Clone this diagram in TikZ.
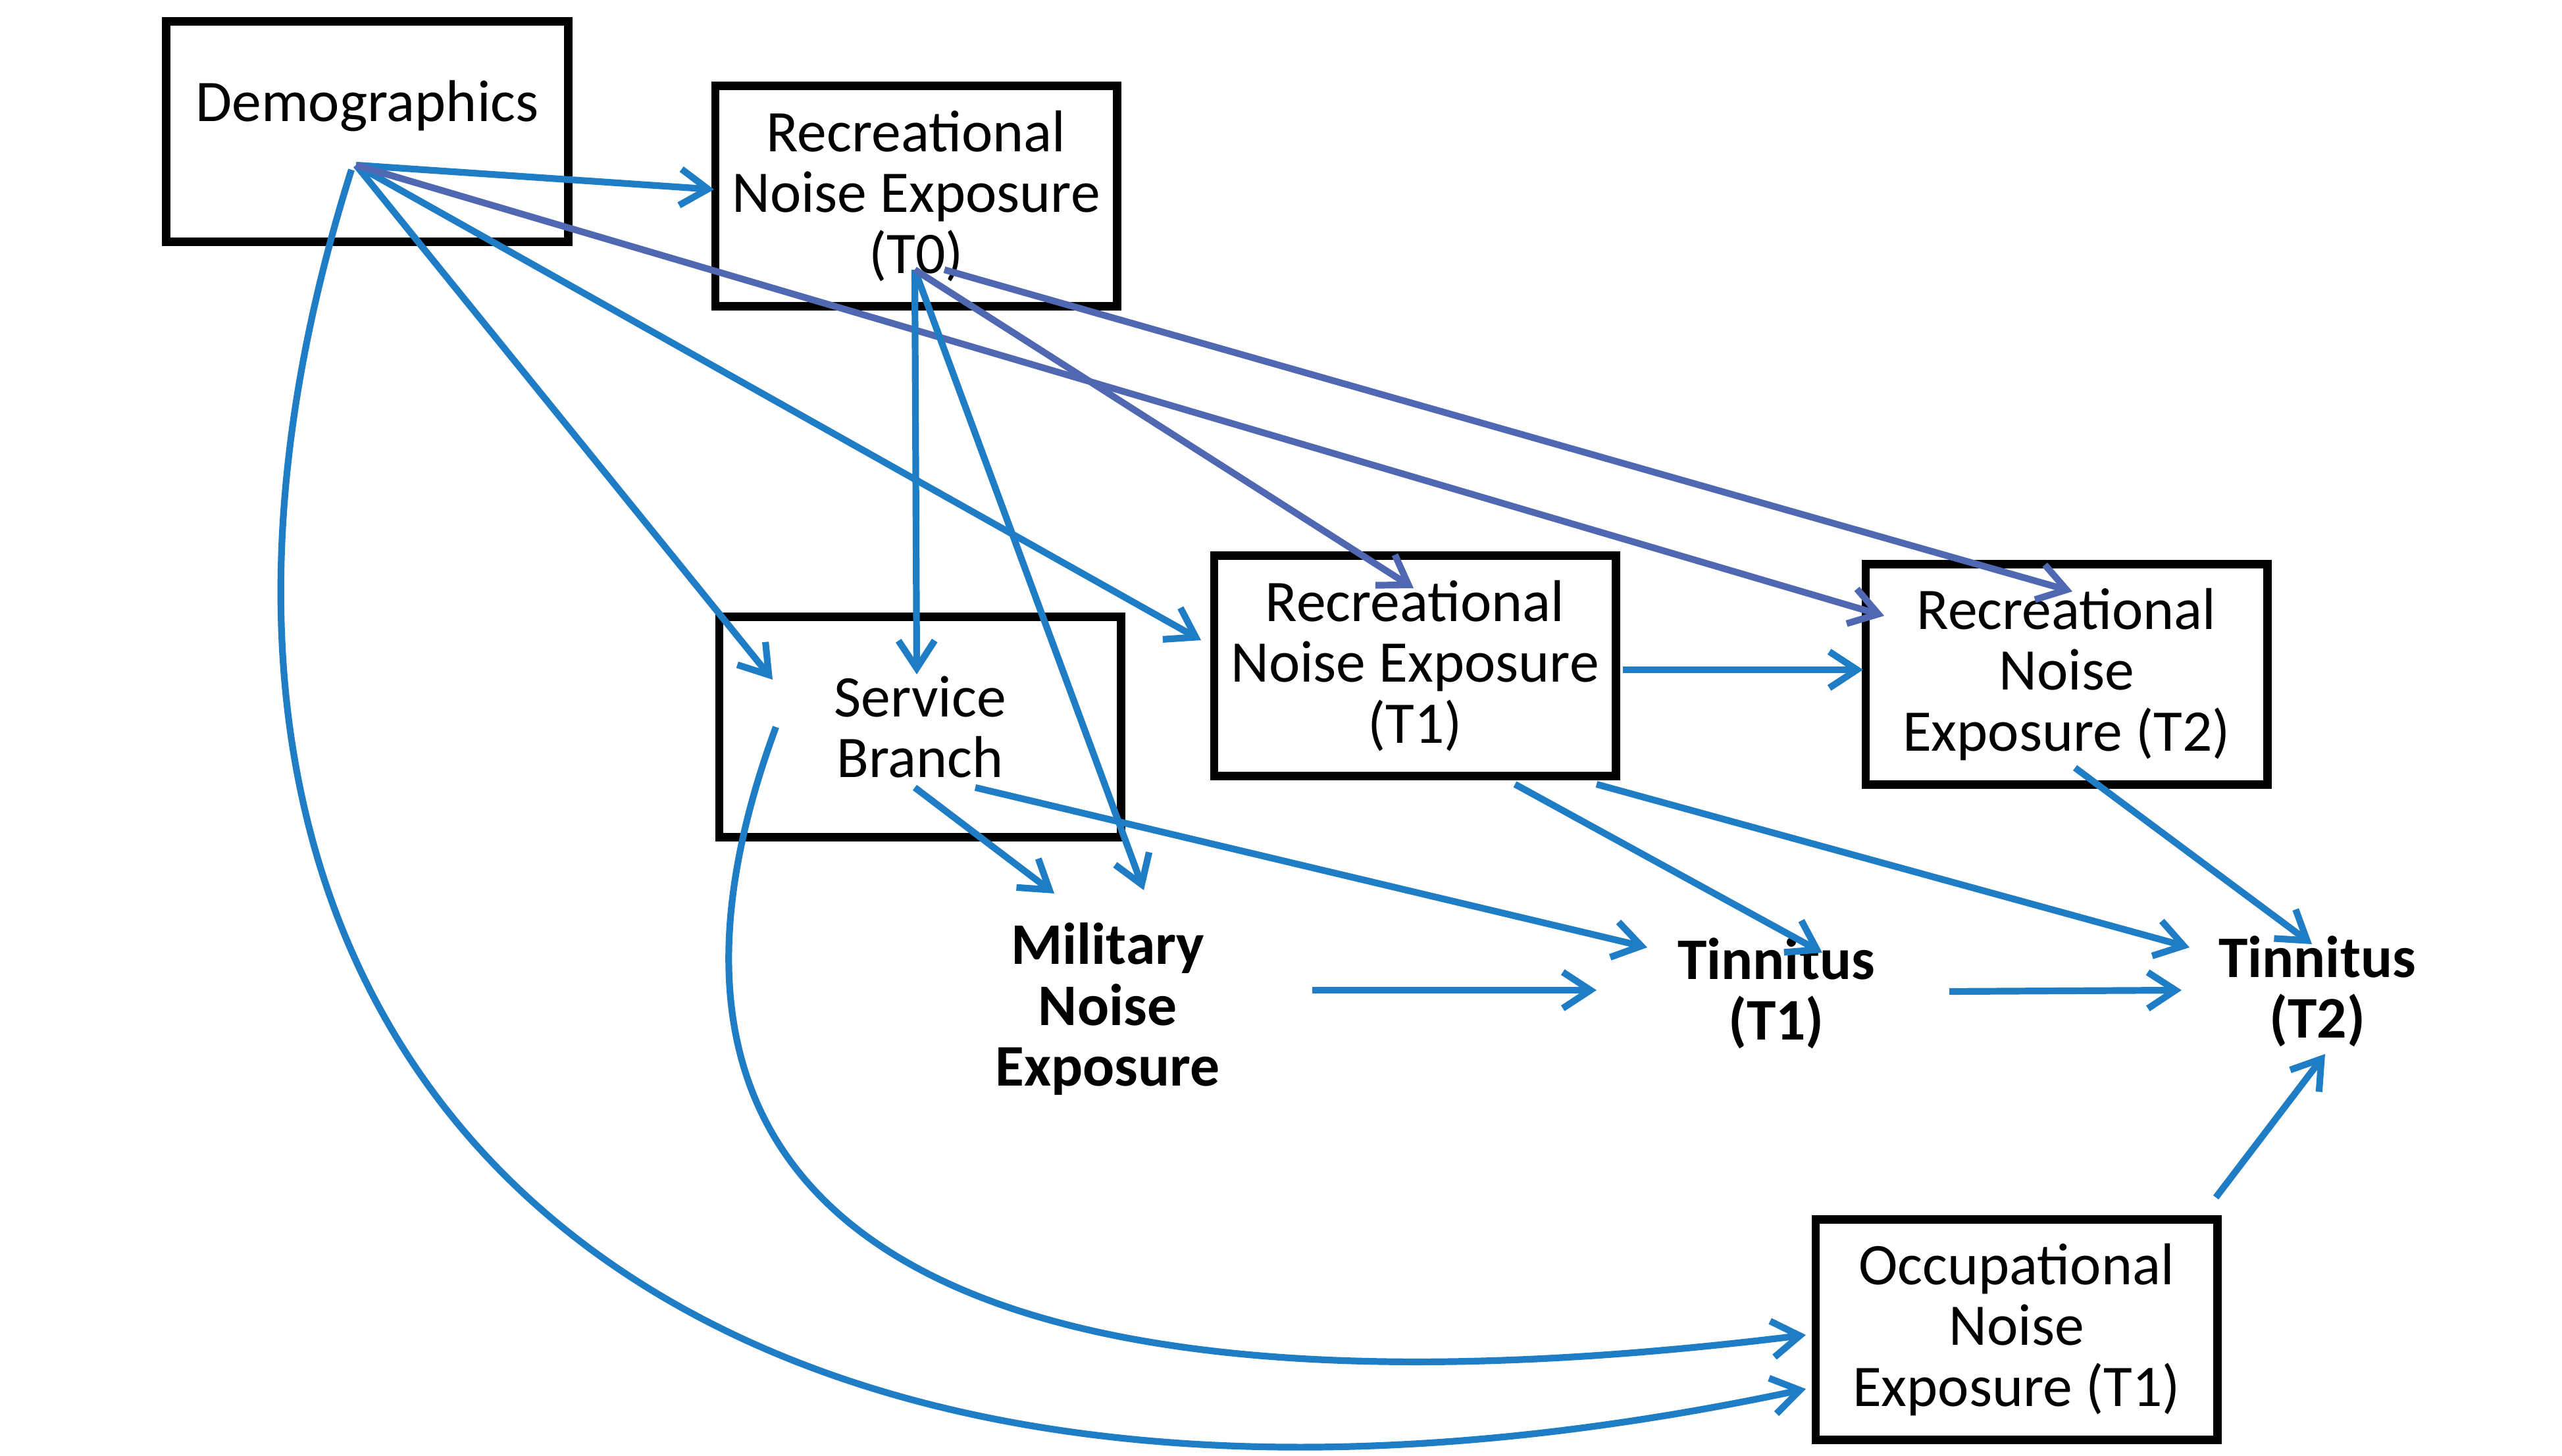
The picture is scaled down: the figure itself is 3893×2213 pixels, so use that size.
\documentclass[tikz,border=0pt]{standalone}
\usepackage{fontspec}
\setmainfont{Carlito}
\usetikzlibrary{arrows.meta,calc}
\definecolor{arrowblue}{RGB}{31,125,197}
\definecolor{arrowpurple}{RGB}{80,104,178}

\begin{document}
\begin{tikzpicture}[x=0.01cm, y=-0.01cm,
  box/.style={draw, line width=3.6pt, minimum width=6.1cm, minimum height=3.35cm, align=center, font=\fontsize{25.5}{26.3}\selectfont},
  plain/.style={align=center, font=\fontsize{25.5}{26.3}\selectfont\bfseries},
  link/.style={draw=arrowblue, line width=2.9pt, -{Straight Barb[length=0.42cm,width=0.55cm]}},
  linkp/.style={link, draw=arrowpurple}]

\useasboundingbox (0,0) rectangle (3893,2213);

% boxes
\node[box] (demo) at (558,200) {Demographics\\ \mbox{}};
\node[box] (t0) at (1392,298) {Recreational\\Noise Exposure\\(T0)};
\node[box] (sb) at (1398,1105) {Service\\Branch};
\node[box] (r1) at (2150,1012) {Recreational\\Noise Exposure\\(T1)};
\node[box] (r2) at (3140,1025) {Recreational\\Noise\\Exposure (T2)};
\node[box] (occ) at (3064,2021) {Occupational\\Noise\\Exposure (T1)};

% outcomes
\node[plain] (mil) at (1683,1534) {Military\\Noise\\Exposure};
\node[plain] (tin1) at (2699,1510) {Tinnitus\\(T1)};
\node[plain] (tin2) at (3521,1507) {Tinnitus\\(T2)};

% from demographics
\draw[link] ($(demo.center)+(-17,51)$) -- ($(t0.center)+(-307,-10)$);
\draw[link] ($(demo.center)+(-17,51)$) -- ($(sb.center)+(-224,-72)$);
\draw[link] ($(demo.center)+(-17,51)$) -- ($(r1.center)+(-325,-39)$);
\draw[linkp] ($(demo.center)+(-17,51)$) -- ($(r2.center)+(-277,-89)$);
\draw[link] ($(demo.center)+(-24,58)$) .. controls +(-430,1363) and +(-1751,372) .. ($(occ.center)+(-320,90)$);

% from recreational T0
\draw[link] ($(t0.center)+(-2,112)$) -- ($(sb.center)+(-5,-80)$);
\draw[link] ($(t0.center)+(-2,112)$) -- ($(mil.center)+(55,-181)$);
\draw[linkp] ($(t0.center)+(-2,112)$) -- ($(r1.center)+(-2,-118)$);
\draw[linkp] ($(t0.center)+(43,112)$) -- ($(r2.center)+(9,-126)$);

% from service branch
\draw[link] ($(sb.center)+(-219,0)$) .. controls +(-280,760) and +(-1300,160) .. ($(occ.center)+(-320,8)$);
\draw[link] ($(sb.center)+(-8,92)$) -- ($(mil.center)+(-81,-176)$);
\draw[link] ($(sb.center)+(84,92)$) -- ($(tin1.center)+(-196,-70)$);

% from recreational T1 and T2
\draw[link] ($(r1.center)+(316,6)$) -- ($(r2.center)+(-309,-7)$);
\draw[link] ($(r1.center)+(152,180)$) -- ($(tin1.center)+(70,-62)$);
\draw[link] ($(r1.center)+(276,180)$) -- ($(tin2.center)+(-194,-67)$);
\draw[link] ($(r2.center)+(13,142)$) -- ($(tin2.center)+(-8,-72)$);

% to tinnitus
\draw[link] ($(mil.center)+(311,-29)$) -- ($(tin1.center)+(-273,-5)$);
\draw[link] ($(tin1.center)+(263,-3)$) -- ($(tin2.center)+(-206,-2)$);
\draw[link] ($(occ.center)+(303,-201)$) -- ($(tin2.center)+(12,95)$);

\end{tikzpicture}
\end{document}
